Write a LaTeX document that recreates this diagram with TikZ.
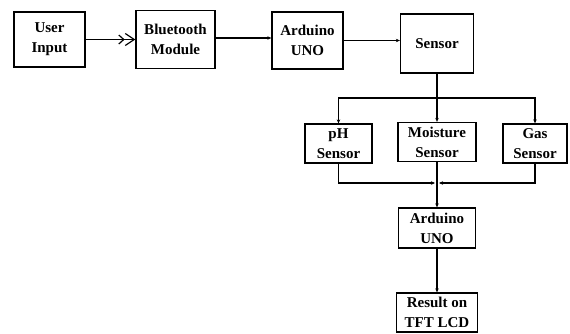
\documentclass[tikz,border=0pt]{standalone}
\usepackage{fontspec}
\setmainfont{Liberation Serif}
\usetikzlibrary{arrows.meta}
\begin{document}
\begin{tikzpicture}[x=1pt, y=-1pt,
  block/.style={draw, line width=1.3pt, align=center, inner sep=1pt,
    font=\fontsize{15}{20}\selectfont\bfseries},
  link/.style={line width=1.2pt, -{Stealth[length=4pt, width=3.5pt]}}]
\useasboundingbox (0,0) rectangle (570,333);

\node[block, minimum width=71pt, minimum height=55pt] at (49.5, 39.5) (user) {User\\Input};
\node[block, minimum width=79pt, minimum height=58pt] at (175.5, 39.5) (bt) {Bluetooth\\Module};
\node[block, minimum width=71pt, minimum height=57pt] at (307.5, 40.5) (ardA) {Arduino\\UNO};
\node[block, minimum width=73pt, minimum height=59pt] at (437, 43.5) (sensor) {Sensor};
\node[block, minimum width=67pt, minimum height=39pt] at (338.5, 143.5) (ph) {pH\\Sensor};
\node[block, minimum width=78pt, minimum height=39pt] at (437, 142) (moist) {Moisture\\Sensor};
\node[block, minimum width=64pt, minimum height=39pt] at (535, 143.5) (gas) {Gas\\Sensor};
\node[block, minimum width=77pt, minimum height=40pt] at (437, 228) (ardB) {Arduino\\UNO};
\node[block, minimum width=81pt, minimum height=39pt] at (437, 312.5) (lcd) {Result on\\TFT LCD};

\coordinate (split) at (437, 98);
\coordinate (join) at (437, 183);

\draw [line width=1.2pt, -{Straight Barb[length=5pt, width=9pt] Straight Barb[length=9pt, width=12pt]}] (user) -- (bt);
\draw [link] ([yshift=1.5pt]bt.east) -- ([yshift=1.5pt]bt.east -| ardA.west);
\draw [link] (ardA) -- (ardA -| sensor.west);
\draw [line width=1.2pt] (sensor) -- (split);
\draw [link] (split) -| (ph);
\draw [link] (split) -- (moist);
\draw [link] (split) -| (gas);
\draw [link] (ph) |- ([xshift=-2pt]join);
\draw [link] (gas) |- ([xshift=2pt]join);
\draw [line width=1.2pt] (moist) -- (join);
\draw [link] (join) -- (ardB);
\draw [link] (ardB) -- (lcd);
\end{tikzpicture}
\end{document}
